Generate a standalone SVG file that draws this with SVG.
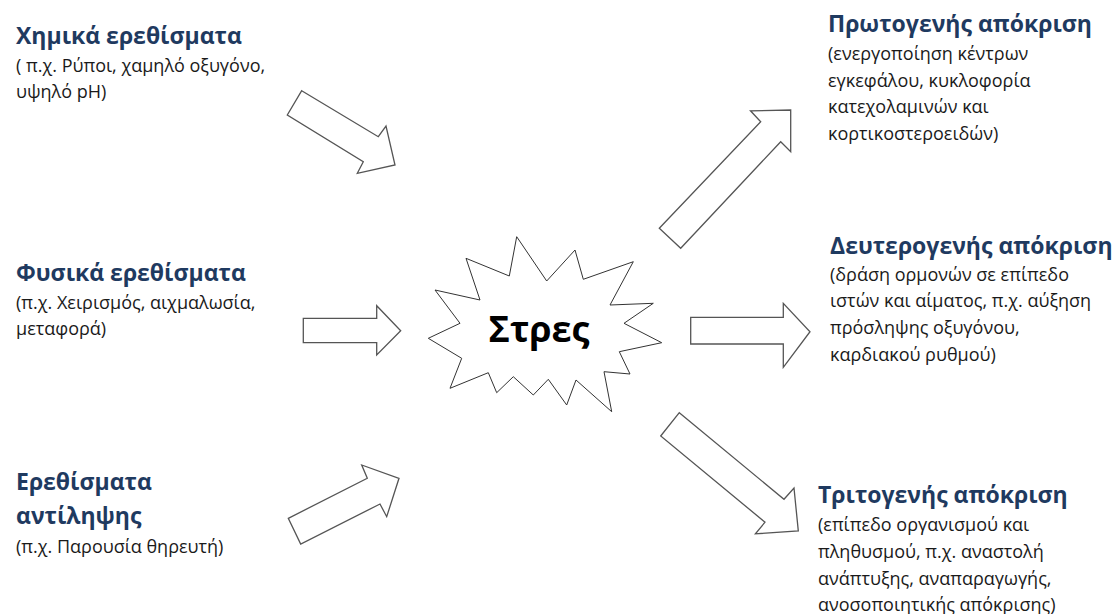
<svg xmlns="http://www.w3.org/2000/svg" width="1117" height="614" viewBox="0 0 1117 614">
<style>
.t{font-family:"Open Sans","Noto Sans",sans-serif;font-weight:bold;font-size:23px;fill:#1F3A60}
.b{font-family:"Open Sans","Noto Sans",sans-serif;font-size:18px;fill:#1a1a1a}
.ar{fill:#fff;stroke:#555;stroke-width:1.3;stroke-linejoin:miter}
.st{fill:#fff;stroke:#333;stroke-width:1}
.c{font-family:"Open Sans","Noto Sans",sans-serif;font-weight:bold;font-size:36px;fill:#000}
</style>
<rect width="1117" height="614" fill="#fff"/>
<g id="connectors">
<polygon class="ar" points="301.7,90.7 378.3,136.7 386,126 395,165 357.3,173.3 363.3,161.7 287.3,115"/>
<polygon class="ar" points="303.3,318.3 376.7,318.3 376.7,305.7 400.7,330.7 376.7,355 376.7,342.7 303.3,342.7"/>
<polygon class="ar" points="288.3,518.3 367.3,478.3 361.7,465 399,478.3 386.7,516.7 380,504 300.7,544"/>
<polygon class="ar" points="659.3,228.3 760.7,121.7 750.5,110.8 790.7,110 790.7,151.7 780.7,141.7 680.7,248.3"/>
<polygon class="ar" points="690.7,317.3 783.3,317.3 783.3,303.3 810,331.7 783.3,367.3 783.3,344 690.7,344"/>
<polygon class="ar" points="679.3,412.7 784,499.3 794,488 798.3,531 755.4,533.8 765,522.2 660.7,436"/>
</g>
<g id="stress">
<polygon class="st" points="516.7,236.7 546.7,281 575,250 583.3,279.3 633.3,261.7 610,305 653.3,303.3 624,323.3 661.7,342.7 619.3,351.7 630,374 604,371.7 611.7,411.7 576,380 566.7,405 548.3,379.3 533.3,395 513.3,376.7 496.7,392.7 488.3,372.7 450,388.3 461.7,358.3 428.3,338.3 460,323.3 435,290 480,300 466,258.3 509.3,276"/>
<text class="c" x="539" y="342" text-anchor="middle">Στρες</text>
</g>
<g id="chemical">
<text class="t" x="16" y="44">Χημικά ερεθίσματα</text>
<text class="b" x="16" y="72">( π.χ. Ρύποι, χαμηλό οξυγόνο,</text>
<text class="b" x="16" y="98">υψηλό pH)</text>
</g>
<g id="physical">
<text class="t" x="16" y="281">Φυσικά ερεθίσματα</text>
<text class="b" x="16" y="309">(π.χ. Χειρισμός, αιχμαλωσία,</text>
<text class="b" x="16" y="335">μεταφορά)</text>
</g>
<g id="perception">
<text class="t" x="16" y="490">Ερεθίσματα</text>
<text class="t" x="16" y="524">αντίληψης</text>
<text class="b" x="16" y="553">(π.χ. Παρουσία θηρευτή)</text>
</g>
<g id="primary">
<text class="t" x="828" y="32">Πρωτογενής απόκριση</text>
<text class="b" x="828" y="60">(ενεργοποίηση κέντρων</text>
<text class="b" x="828" y="87">εγκεφάλου, κυκλοφορία</text>
<text class="b" x="828" y="113">κατεχολαμινών και</text>
<text class="b" x="828" y="140">κορτικοστεροειδών)</text>
</g>
<g id="secondary">
<text class="t" x="830" y="254">Δευτερογενής απόκριση</text>
<text class="b" x="830" y="281">(δράση ορμονών σε επίπεδο</text>
<text class="b" x="830" y="307">ιστών και αίματος, π.χ. αύξηση</text>
<text class="b" x="830" y="334">πρόσληψης οξυγόνου,</text>
<text class="b" x="830" y="361">καρδιακού ρυθμού)</text>
</g>
<g id="tertiary">
<text class="t" x="818" y="503">Τριτογενής απόκριση</text>
<text class="b" x="818" y="531">(επίπεδο οργανισμού και</text>
<text class="b" x="818" y="558">πληθυσμού, π.χ. αναστολή</text>
<text class="b" x="818" y="585">ανάπτυξης, αναπαραγωγής,</text>
<text class="b" x="818" y="611">ανοσοποιητικής απόκρισης)</text>
</g>
</svg>
